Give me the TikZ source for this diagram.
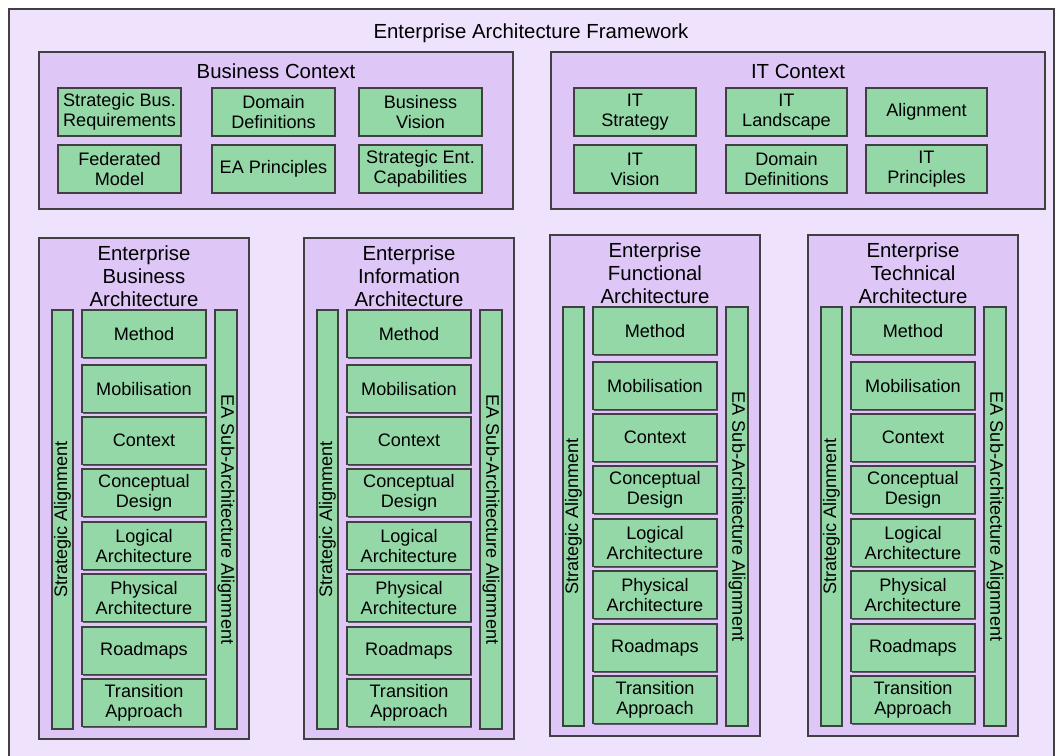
\documentclass[tikz,border=0pt]{standalone}
\usepackage{fontspec}
\setmainfont{Liberation Sans}
\usetikzlibrary{shadows}
\definecolor{framebg}{RGB}{238,226,252}
\definecolor{groupbg}{RGB}{222,198,247}
\definecolor{itembg}{RGB}{148,216,168}
\definecolor{edgegray}{RGB}{64,64,64}
\newcommand{\pxu}{0.02cm}
\tikzset{
  grp/.style={draw=edgegray, fill=groupbg, line width=0.6pt, inner sep=0pt},
  item/.style={draw=edgegray, fill=itembg, line width=0.6pt, align=center, inner sep=0pt,
    font=\fontsize{10.3}{11.3}\selectfont,
    drop shadow={shadow xshift=0.6pt, shadow yshift=-0.6pt, opacity=0.55, fill=black}},
  ttl/.style={align=center, font=\fontsize{11.6}{13}\selectfont, inner sep=0pt}
}

\begin{document}
\begin{tikzpicture}[x=0.02cm, y=-0.02cm]
        \useasboundingbox (0,0) rectangle (1059,756);
        % Outer frame
        \node[draw=edgegray, fill=framebg, line width=0.6pt, minimum width=1045*\pxu, minimum height=770*\pxu] (eaf) at (531.5,394) {};
        \node[ttl] (eaftitle) at (531,33) {Enterprise Architecture Framework};

        % Business context
        \node[grp, minimum width=474*\pxu, minimum height=157*\pxu] (bctx) at (276,130.5) {};
        \node[ttl] (bctxtitle) at (276,71) {Business Context};
        \node[item, minimum width=123*\pxu, minimum height=48*\pxu] (sbr) at (119.5,112) {Strategic Bus.\\Requirements};
        \node[item, minimum width=123*\pxu, minimum height=48*\pxu] (bdd) at (273.5,112) {Domain\\Definitions};
        \node[item, minimum width=123*\pxu, minimum height=48*\pxu] (bv) at (420.5,112) {Business\\Vision};
        \node[item, minimum width=123*\pxu, minimum height=48*\pxu] (fm) at (119.5,169) {Federated\\Model};
        \node[item, minimum width=123*\pxu, minimum height=48*\pxu] (eap) at (273.5,169) {EA Principles};
        \node[item, minimum width=123*\pxu, minimum height=48*\pxu] (sec) at (420.5,169) {Strategic Ent.\\Capabilities};

        % IT context
        \node[grp, minimum width=494*\pxu, minimum height=157*\pxu] (itctx) at (798,130.5) {};
        \node[ttl] (itctxtitle) at (798,71) {IT Context};
        \node[item, minimum width=122*\pxu, minimum height=48*\pxu] (its) at (635,112) {IT\\Strategy};
        \node[item, minimum width=121*\pxu, minimum height=48*\pxu] (itl) at (786.5,112) {IT\\Landscape};
        \node[item, minimum width=121*\pxu, minimum height=48*\pxu] (ital) at (926.5,112) {Alignment};
        \node[item, minimum width=122*\pxu, minimum height=48*\pxu] (itv) at (635,169) {IT\\Vision};
        \node[item, minimum width=121*\pxu, minimum height=48*\pxu] (itdd) at (786.5,169) {Domain\\Definitions};
        \node[item, minimum width=121*\pxu, minimum height=48*\pxu] (itp) at (926.5,169) {IT\\Principles};

        % Sub-architectures
        \foreach \L/\dy/\name/\title in {39/0/eba/{Enterprise\\Business\\Architecture},
                                         304/0/eia/{Enterprise\\Information\\Architecture},
                                         550/-3/efa/{Enterprise\\Functional\\Architecture},
                                         808/-3/eta/{Enterprise\\Technical\\Architecture}} {
            \node[grp, minimum width=210*\pxu, minimum height=501*\pxu] (\name) at ({\L+105},{488.5+\dy}) {};
            \node[ttl] (\name-title) at ({\L+105},{276+\dy}) {\title};
            \node[item, rotate=90, minimum width=419*\pxu, minimum height=21*\pxu] (\name-sa) at ({\L+23.5},{519.5+\dy}) {Strategic Alignment};
            \node[item, rotate=-90, minimum width=419*\pxu, minimum height=22*\pxu] (\name-ea) at ({\L+187},{519.5+\dy}) {EA Sub-Architecture Alignment};
            \foreach \t/\txt [count=\i] in {310/Method, 365/Mobilisation, 417/Context, 469/{Conceptual\\Design},
                                           522/{Logical\\Architecture}, 574/{Physical\\Architecture},
                                           627/Roadmaps, 679/{Transition\\Approach}} {
                \node[item, minimum width=124*\pxu, minimum height=47.5*\pxu] (\name-\i) at ({\L+105},{\t+23.75+\dy}) {\txt};
            }
        }
    \end{tikzpicture}
\end{document}
